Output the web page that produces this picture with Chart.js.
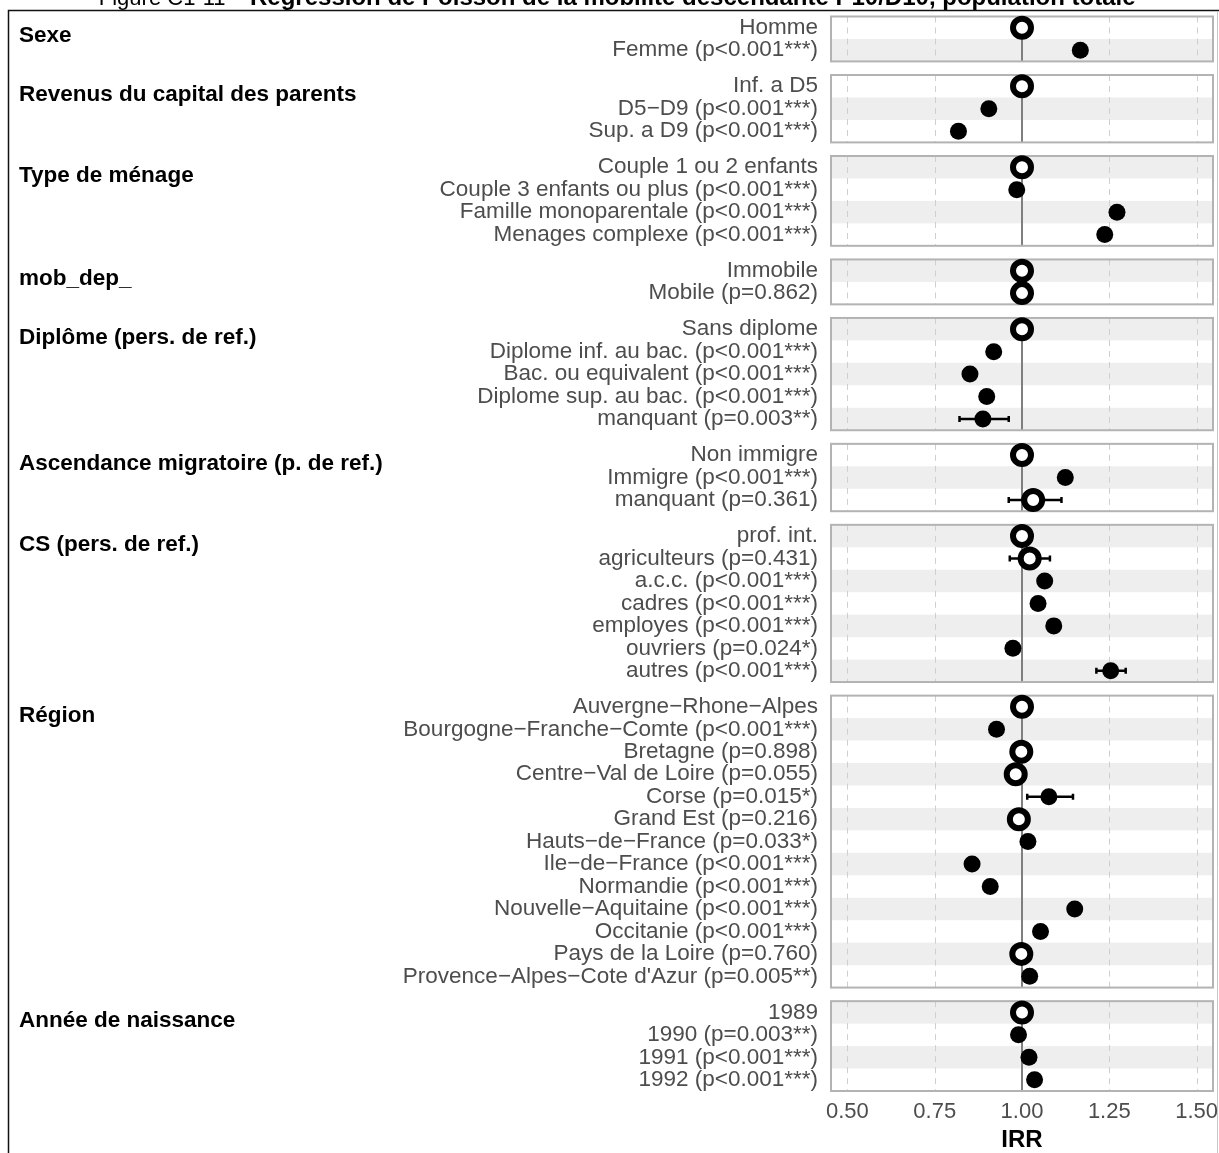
<!DOCTYPE html>
<html>
<head>
<meta charset="utf-8">
<script src="https://cdn.jsdelivr.net/npm/chart.js@4.4.1/dist/chart.umd.min.js"></script>
<style>
  html, body { margin: 0; padding: 0; background: #fff; overflow: hidden; }
  canvas { display: block; }
</style>
</head>
<body>
<canvas id="forest" width="1219" height="1153"></canvas>
<script>
// Groups and rows of the forest plot
const groupTitles = [
  "Sexe",
  "Revenus du capital des parents",
  "Type de ménage",
  "mob_dep_",
  "Diplôme (pers. de ref.)",
  "Ascendance migratoire (p. de ref.)",
  "CS (pers. de ref.)",
  "Région",
  "Année de naissance"
];
const groupSizes = [2, 3, 4, 2, 5, 3, 7, 13, 4];

const rowLabels = [
  "Homme", "Femme (p<0.001***)",
  "Inf. a D5", "D5−D9 (p<0.001***)", "Sup. a D9 (p<0.001***)",
  "Couple 1 ou 2 enfants", "Couple 3 enfants ou plus (p<0.001***)",
  "Famille monoparentale (p<0.001***)", "Menages complexe (p<0.001***)",
  "Immobile", "Mobile (p=0.862)",
  "Sans diplome", "Diplome inf. au bac. (p<0.001***)", "Bac. ou equivalent (p<0.001***)",
  "Diplome sup. au bac. (p<0.001***)", "manquant (p=0.003**)",
  "Non immigre", "Immigre (p<0.001***)", "manquant (p=0.361)",
  "prof. int.", "agriculteurs (p=0.431)", "a.c.c. (p<0.001***)", "cadres (p<0.001***)",
  "employes (p<0.001***)", "ouvriers (p=0.024*)", "autres (p<0.001***)",
  "Auvergne−Rhone−Alpes", "Bourgogne−Franche−Comte (p<0.001***)", "Bretagne (p=0.898)",
  "Centre−Val de Loire (p=0.055)", "Corse (p=0.015*)", "Grand Est (p=0.216)",
  "Hauts−de−France (p=0.033*)", "Ile−de−France (p<0.001***)", "Normandie (p<0.001***)",
  "Nouvelle−Aquitaine (p<0.001***)", "Occitanie (p<0.001***)", "Pays de la Loire (p=0.760)",
  "Provence−Alpes−Cote d'Azur (p=0.005**)",
  "1989", "1990 (p=0.003**)", "1991 (p<0.001***)", "1992 (p<0.001***)"
];

const irr = [
  1, 1.167,
  1, 0.905, 0.818,
  1, 0.985, 1.272, 1.237,
  1, 1.0,
  1, 0.919, 0.851, 0.899, 0.888,
  1, 1.124, 1.032,
  1, 1.022, 1.065, 1.046, 1.091, 0.974, 1.254,
  1, 0.927, 0.998, 0.982, 1.077, 0.991, 1.017, 0.857, 0.909, 1.151, 1.053, 0.998, 1.022,
  1, 0.99, 1.02, 1.036
];

// confidence intervals (only the ones wider than the dot are readable)
const ciLow = [
  null, null,
  null, null, null,
  null, null, null, null,
  null, null,
  null, null, null, null, 0.821,
  null, null, 0.962,
  null, 0.965, null, null, null, null, 1.213,
  null, null, null, null, 1.015, null, null, null, null, null, null, null, null,
  null, null, null, null
];
const ciHigh = [
  null, null,
  null, null, null,
  null, null, null, null,
  null, null,
  null, null, null, null, 0.962,
  null, null, 1.113,
  null, 1.080, null, null, null, null, 1.297,
  null, null, null, null, 1.146, null, null, null, null, null, null, null, null,
  null, null, null, null
];

const xTicks = [0.5, 0.75, 1.0, 1.25, 1.5];

// row positions on the y scale: one unit per row, extra gap between groups
const GAP = 0.606;
const rowPos = [];
groupSizes.forEach((n, g) => {
  for (let k = 0; k < n; k++) rowPos.push(rowPos.length + g * GAP);
});
const yMax = rowPos[rowPos.length - 1] + 0.5;

// significant rows (stars in label) get a filled dot
const isFilled = rowLabels.map(l => l.includes("*"));

const filledPts = [], hollowPts = [];
irr.forEach((v, i) => {
  const p = { x: v, y: rowPos[i] };
  (isFilled[i] ? filledPts : hollowPts).push(p);
});

const FONT = "'Liberation Sans', Arial, sans-serif";

const panels = {
  id: "panels",
  beforeDatasetsDraw(chart) {
    const { ctx, scales: { x, y } } = chart;
    const L = x.left, R = x.right;
    let start = 0;
    ctx.save();
    groupSizes.forEach((n) => {
      const top = y.getPixelForValue(rowPos[start] - 0.5);
      const bot = y.getPixelForValue(rowPos[start + n - 1] + 0.5);
      // stripes
      for (let i = start; i < start + n; i++) {
        if (i % 2 === 1) {
          const a = y.getPixelForValue(rowPos[i] - 0.5);
          const b = y.getPixelForValue(rowPos[i] + 0.5);
          ctx.fillStyle = "#eeeeee";
          ctx.fillRect(L, a, R - L, b - a);
        }
      }
      // dashed grid
      ctx.strokeStyle = "#cfcfcf";
      ctx.lineWidth = 1;
      ctx.setLineDash([6, 5]);
      xTicks.forEach(t => {
        if (t === 1) return;
        const px = Math.round(x.getPixelForValue(t)) + 0.5;
        ctx.beginPath(); ctx.moveTo(px, top); ctx.lineTo(px, bot); ctx.stroke();
      });
      ctx.setLineDash([]);
      // reference line at 1
      const p1 = x.getPixelForValue(1);
      ctx.strokeStyle = "#7f7f7f";
      ctx.lineWidth = 2;
      ctx.beginPath(); ctx.moveTo(p1, top); ctx.lineTo(p1, bot); ctx.stroke();
      // border
      ctx.strokeStyle = "#b3b3b3";
      ctx.lineWidth = 2;
      ctx.strokeRect(L, top, R - L, bot - top);
      start += n;
    });
    // error bars
    ctx.strokeStyle = "#000";
    ctx.lineWidth = 2.5;
    irr.forEach((v, i) => {
      if (ciLow[i] == null) return;
      const py = y.getPixelForValue(rowPos[i]);
      const a = x.getPixelForValue(ciLow[i]), b = x.getPixelForValue(ciHigh[i]);
      ctx.beginPath();
      ctx.moveTo(a, py); ctx.lineTo(b, py);
      ctx.moveTo(a, py - 3); ctx.lineTo(a, py + 3);
      ctx.moveTo(b, py - 3); ctx.lineTo(b, py + 3);
      ctx.stroke();
    });
    ctx.restore();
  },
  afterDraw(chart) {
    const { ctx, scales: { x, y } } = chart;
    ctx.save();
    // x tick labels (drawn here so the last one can overhang the right edge)
    ctx.fillStyle = "#4d4d4d";
    ctx.font = "22px " + FONT;
    ctx.textAlign = "center";
    ctx.textBaseline = "middle";
    xTicks.forEach(t => ctx.fillText(t.toFixed(2), x.getPixelForValue(t), y.bottom + 21));
    // group titles
    ctx.fillStyle = "#000";
    ctx.font = "bold 22.5px " + FONT;
    ctx.textAlign = "left";
    let start = 0;
    groupSizes.forEach((n, g) => {
      ctx.fillText(groupTitles[g], 19, y.getPixelForValue(rowPos[start]) + 8.5);
      start += n;
    });
    // figure caption (cut off at the top)
    ctx.textBaseline = "alphabetic";
    ctx.font = "22px " + FONT;
    const t1 = "Figure C1-11 – ";
    const w1 = ctx.measureText(t1).width;
    ctx.fillText(t1, 250 - w1, 5);
    ctx.font = "bold 24px " + FONT;
    ctx.fillText("Régression de Poisson de la mobilité descendante P10/D10, population totale", 250, 5);
    // frame
    ctx.strokeStyle = "#111";
    ctx.lineWidth = 1.5;
    ctx.beginPath();
    ctx.moveTo(8.5, 1153); ctx.lineTo(8.5, 10.5); ctx.lineTo(1219, 10.5);
    ctx.stroke();
    ctx.strokeStyle = "#c8c8c8";
    ctx.lineWidth = 1;
    ctx.beginPath(); ctx.moveTo(1217.5, 11); ctx.lineTo(1217.5, 1153); ctx.stroke();
    ctx.restore();
  }
};

new Chart(document.getElementById("forest"), {
  type: "scatter",
  data: {
    datasets: [
      {
        label: "significatif",
        data: filledPts,
        pointRadius: 8.5,
        pointBackgroundColor: "#000",
        pointBorderWidth: 0,
        clip: false
      },
      {
        label: "non significatif / reference",
        data: hollowPts,
        pointRadius: 9,
        pointBackgroundColor: "#fff",
        pointBorderColor: "#000",
        pointBorderWidth: 6,
        clip: false
      }
    ]
  },
  options: {
    responsive: false,
    animation: false,
    events: [],
    layout: { autoPadding: false, padding: { top: 16.5, right: 6, left: 0, bottom: 0 } },
    plugins: { legend: { display: false }, tooltip: { enabled: false } },
    scales: {
      x: {
        type: "linear",
        min: 0.453,
        max: 1.547,
        afterBuildTicks: s => { s.ticks = xTicks.map(v => ({ value: v })); },
        ticks: { display: false },
        grid: { display: false, drawTicks: false },
        border: { display: false },
        title: {
          display: true,
          text: "IRR",
          color: "#000",
          font: { family: FONT, size: 24, weight: "bold", lineHeight: 1 },
          padding: { top: 0, bottom: 1 }
        },
        afterFit: s => { s.height = 62; }
      },
      y: {
        type: "linear",
        reverse: true,
        min: -0.5,
        max: yMax,
        afterBuildTicks: s => { s.ticks = rowPos.map(v => ({ value: v })); },
        ticks: {
          autoSkip: false,
          callback: (v, i) => rowLabels[i],
          color: "#4d4d4d",
          font: { family: FONT, size: 22.5, lineHeight: 1 },
          padding: 13
        },
        grid: { display: false, drawTicks: false },
        border: { display: false },
        afterFit: s => { s.width = 831; s.paddingTop = 0; s.paddingBottom = 0; }
      }
    }
  },
  plugins: [panels]
});
</script>
</body>
</html>
